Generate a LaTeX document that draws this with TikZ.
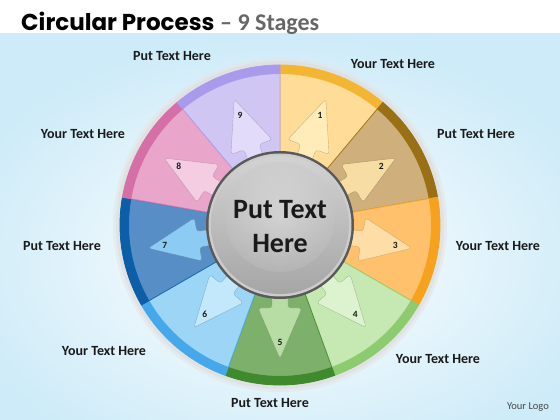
\documentclass[tikz,border=0pt]{standalone}
\usepackage{fontspec}
\setmainfont{Carlito}
\newfontfamily\titlefont{Poppins}
\definecolor{bgblue}{HTML}{CDEBF8}
\definecolor{txt}{HTML}{1A1A1A}
\definecolor{c1}{HTML}{FFD98A}\definecolor{b1}{HTML}{F2B632}\definecolor{a1}{HTML}{FFECB8}
\definecolor{c2}{HTML}{C9A66B}\definecolor{b2}{HTML}{9A7014}\definecolor{a2}{HTML}{F7DDA4}
\definecolor{c3}{HTML}{FFB957}\definecolor{b3}{HTML}{F7A21E}\definecolor{a3}{HTML}{FFDDA6}
\definecolor{c4}{HTML}{BFE5A8}\definecolor{b4}{HTML}{8CCB6E}\definecolor{a4}{HTML}{DDF2CF}
\definecolor{c5}{HTML}{6CA656}\definecolor{b5}{HTML}{3E8A2C}\definecolor{a5}{HTML}{B7DDA4}
\definecolor{c6}{HTML}{8FD0F5}\definecolor{b6}{HTML}{45A8EA}\definecolor{a6}{HTML}{C4E8FB}
\definecolor{c7}{HTML}{3F7FBD}\definecolor{b7}{HTML}{0D5EA8}\definecolor{a7}{HTML}{8CCBF3}
\definecolor{c8}{HTML}{E79AC3}\definecolor{b8}{HTML}{D56FA8}\definecolor{a8}{HTML}{F5CDE2}
\definecolor{c9}{HTML}{C9BFF3}\definecolor{b9}{HTML}{A99AEB}\definecolor{a9}{HTML}{E2DCFA}
\tikzset{
  lbl/.style={font=\fontsize{14}{16}\selectfont\bfseries, text=txt, inner sep=0pt},
  num/.style={font=\fontsize{9.5}{10}\selectfont\bfseries, text=txt, inner sep=0pt},
}
\begin{document}
\begin{tikzpicture}[x=1pt,y=1pt]
\useasboundingbox (0,0) rectangle (560,420);
% background
\fill[white] (0,0) rectangle (560,420);
\shade[inner color=white, outer color=bgblue] (-60,-60) rectangle (620,387);
\fill[white] (0,387) rectangle (560,420);
% title
\node[anchor=base west, inner sep=0pt] (title) at (21,389) {\titlefont\fontsize{23}{28}\selectfont\bfseries Circular Process};
\node[anchor=base west, inner sep=0pt, text=gray!80!black] (subtitle) at (220,389) {\fontsize{24}{28}\selectfont\bfseries – 9 Stages};
\begin{scope}[shift={(280,195)}]
  % soft shadow
  \fill[gray!35, opacity=0.6] (0,0) circle (164);
  \fill[gray!20, opacity=0.6] (0,0) circle (167);
  \foreach \i in {1,...,9} {
    \pgfmathsetmacro\m{110-40*\i}
    \pgfmathsetmacro\sa{\m-20}
    \pgfmathsetmacro\ea{\m+20}
    \fill[c\i, draw=b\i, line width=0.8pt] (\sa:68) -- (\sa:160) arc[start angle=\sa, end angle=\ea, radius=160] -- (\ea:68) arc[start angle=\ea, end angle=\sa, radius=68] -- cycle;
    \fill[b\i] (\sa:151) -- (\sa:160) arc[start angle=\sa, end angle=\ea, radius=160] -- (\ea:151) arc[start angle=\ea, end angle=\sa, radius=151] -- cycle;
    \fill[white, opacity=0.12] (\sa:68) -- (\sa:151) arc[start angle=\sa, end angle=\ea, radius=151] -- (\ea:68) arc[start angle=\ea, end angle=\sa, radius=68] -- cycle;
    \filldraw[a\i, draw=b\i!70!black!60, line width=0.4pt, rounded corners=3pt, rotate=\m]
      (62,-8) -- (83,-8) -- (83,-22) -- (134,0) -- (83,22) -- (83,8) -- (62,8) -- cycle;
    \node[num] (n\i) at (\m:117) {\i};
  }
  % centre
  \fill[gray!70!black] (0,0) circle (74);
  \fill[gray!40] (0,0) circle (71.5);
  \shade[top color=gray!35, bottom color=gray!70] (0,0) circle (69);
  \shade[inner color=white, outer color=gray!45, opacity=0.3] (0,8) circle (55);
  \node[font=\fontsize{28}{34}\selectfont\bfseries, text=txt, align=center] (center) at (0,-2) {Put Text\\Here};
\end{scope}
% labels
\node[lbl] (l9) at (172,364) {Put Text Here};
\node[lbl] (l1) at (393,356) {Your Text Here};
\node[lbl] (l2) at (476,286) {Put Text Here};
\node[lbl] (l8) at (83,286) {Your Text Here};
\node[lbl] (l7) at (62,174) {Put Text Here};
\node[lbl] (l3) at (498,174) {Your Text Here};
\node[lbl] (l6) at (104,69) {Your Text Here};
\node[lbl] (l4) at (438,61) {Your Text Here};
\node[lbl] (l5) at (270,17) {Put Text Here};
\node[font=\fontsize{10.5}{12}\selectfont, text=txt!80, inner sep=0pt] (logo) at (528,13) {Your Logo};
\end{tikzpicture}
\end{document}
